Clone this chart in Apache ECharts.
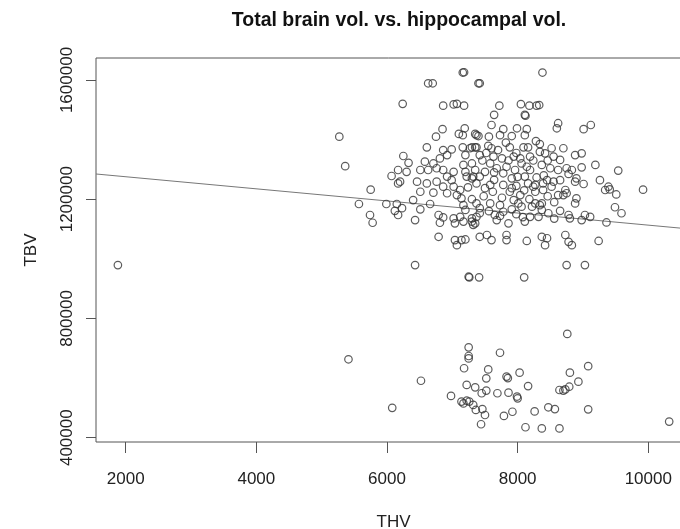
<!DOCTYPE html>
<html>
<head>
<meta charset="utf-8">
<script src="https://cdn.jsdelivr.net/npm/echarts@6/dist/echarts.min.js"></script>
<style>
  html, body { margin: 0; padding: 0; background: #fff; }
  #main { width: 680px; height: 529px; }
</style>
</head>
<body>
<div id="main"></div>
<script>
// tick values (R style axes)
var xTicks = [2000, 4000, 6000, 8000, 10000];
var yTicks = [400000, 800000, 1200000, 1600000];

// fitted line TBV = intercept + slope * THV
var intercept = 1316000;
var slope = -20.3;

// upper cluster [THV, TBV]
var upperLeft = [
  [7160,1625000],[7180,1626000],[6630,1589000],[6700,1589000],[7400,1589000],
  [6240,1520000],[6860,1514000],[7020,1518000],[7070,1520000],[7180,1514000],
  [5270,1410000],[5360,1311000],[6850,1435000],[6750,1410000],[7190,1438000],
  [7100,1419000],[7160,1415000],[7370,1415000],[6610,1374000],[6250,1345000],
  [6330,1322000],[6860,1365000],[6990,1367000],[6920,1348000],[6810,1337000],
  [7160,1374000],[7270,1371000],[7200,1348000],[7350,1374000],[6580,1326000],
  [6710,1320000],[7170,1315000],[6070,1278000],[6170,1298000],[6300,1292000],
  [6200,1259000],[6510,1298000],[6630,1298000],[6760,1304000],[6860,1298000],
  [7020,1292000],[5750,1232000],[6460,1259000],[6610,1253000],[6760,1259000],
  [6920,1276000],[6990,1264000],[7300,1270000],[7220,1276000],[7350,1298000],[7200,1292000]
];
var upperRight = [
  [8380,1625000],[7420,1589000],[7720,1514000],[8050,1519000],[8180,1514000],
  [8290,1514000],[8330,1516000],[7640,1483000],[8110,1483000],[8120,1480000],
  [7600,1449000],[8620,1455000],[8600,1438000],[9120,1449000],[9010,1435000],
  [7780,1435000],[7990,1438000],[8140,1435000],[7350,1419000],[7400,1412000],
  [7730,1415000],[7910,1412000],[8110,1415000],[7560,1410000],[8340,1385000],
  [8520,1371000],[8700,1371000],[7300,1374000],[7370,1374000],[7550,1379000],
  [7600,1371000],[7880,1374000],[8090,1374000],[8160,1374000],[8340,1359000],
  [8420,1354000],[8880,1348000],[8980,1354000],[7420,1348000],[7630,1343000],
  [7760,1337000],[7940,1343000],[8040,1337000],[8190,1343000],[8550,1343000],
  [8650,1332000],[9190,1315000],[9540,1296000],[8750,1304000],[8830,1298000],
  [8980,1307000],[7580,1320000],[7680,1304000],[7830,1309000],[7960,1298000],
  [8140,1309000],[8190,1298000],[8370,1315000],[8500,1304000],[8620,1298000],
  [7500,1292000],[7320,1276000],[7420,1276000],[7780,1287000],[7910,1270000],
  [8110,1276000],[8290,1273000],[8450,1264000],[8550,1259000],[8650,1264000],
  [8900,1270000],[9010,1251000],[9260,1264000],[9390,1242000],[9920,1232000],
  [7580,1248000],[7780,1248000],[7910,1237000],[8240,1242000],[8520,1242000]
];
var middleRight = [
  [9340,1231000],[9410,1233000],[9510,1216000],[9490,1173000],[9590,1153000],
  [9360,1122000],[9240,1060000],[9030,1147000],[9110,1141000],[8980,1130000],
  [8780,1147000],[8800,1136000],[8650,1161000],[8880,1186000],[8900,1203000],
  [8750,1220000],[8700,1214000],[8730,1231000],[8880,1259000],[8470,1153000],
  [8320,1141000],[8190,1141000],[8110,1125000],[8340,1180000],[8370,1164000],
  [7910,1166000],[7780,1158000],[7860,1119000],[7680,1130000],[7650,1147000],
  [7730,1144000],[7420,1153000],[7370,1141000],[7300,1125000],[7350,1119000],
  [7420,1074000],[7530,1080000],[7600,1063000],[7830,1080000],[7830,1063000],
  [8140,1060000],[8370,1074000],[8450,1069000],[8420,1046000],[8730,1080000],
  [8780,1057000],[8830,1046000],[8750,979000],[9030,979000],[8100,938000],
  [7370,1253000],[7500,1237000],[7880,1225000],[8040,1214000],[8160,1253000],
  [8270,1248000],[8390,1253000],[8270,1225000],[8390,1231000],[8620,1214000],
  [7370,1186000],[7420,1170000],[7580,1186000],[7730,1180000],[7940,1197000],
  [8010,1186000],[8060,1175000],[8220,1175000],[8270,1186000],[8370,1186000]
];
var middleLeft = [
  [1880,979000],
  [5570,1184000],[5740,1147000],[5780,1121000],[5990,1184000],[6150,1184000],
  [6120,1161000],[6170,1147000],[6230,1170000],[6400,1197000],[6510,1166000],
  [6430,1130000],[6660,1184000],[6790,1147000],[6810,1121000],[6860,1139000],
  [6790,1074000],[7040,1063000],[7070,1046000],[7140,1063000],[7200,1065000],
  [6430,979000],[7260,938000],[7250,940000],[7410,938000],
  [6710,1222000],[6510,1225000],[6170,1253000],
  [6860,1242000],[6920,1220000],[7020,1242000],[7070,1214000],[7120,1231000],
  [7140,1203000],[7170,1180000],[7200,1164000],[7120,1141000],[7170,1125000],
  [7300,1136000],[7320,1114000],[7020,1136000],[7040,1119000]
];
// extra points in the dense core
var denseCore = [
  [7460,1330000],[7520,1355000],[7640,1290000],[7700,1365000],[7820,1390000],
  [7980,1355000],[8060,1320000],[8240,1330000],[8280,1395000],[8460,1330000],
  [7480,1210000],[7620,1225000],[7760,1205000],[7980,1245000],[8100,1230000],
  [8180,1200000],[8460,1210000],[8560,1190000],[7560,1160000],[7980,1150000],
  [8080,1140000],[8560,1135000],[7240,1240000],[7300,1200000],[7640,1265000],
  [8000,1275000],[8400,1280000],[8780,1285000],[7860,1330000],[7300,1320000]
];
// lower cluster
var lowerGroup = [
  [5410,663000],[6080,500000],[6520,591000],[7250,703000],[7250,674000],[7250,666000],
  [7730,685000],[7180,633000],[7550,629000],[7520,599000],[7830,605000],[7850,600000],
  [8030,618000],[8160,573000],[7220,577000],[7350,569000],[7450,549000],[7520,558000],
  [6980,540000],[7140,521000],[7170,515000],[7220,524000],[7260,521000],[7320,510000],
  [7360,493000],[7460,496000],[7500,476000],[7440,445000],[7690,549000],[7860,551000],
  [7990,538000],[8000,532000],[7790,473000],[7920,487000],[8120,435000],[8260,488000],
  [8370,431000],[8470,502000],[8760,748000],[9080,640000],[8800,618000],[8930,588000],
  [8790,571000],[8640,560000],[8700,558000],[8730,562000],[8570,496000],[9080,495000],
  [8640,431000],[10320,454000]
];

var xMin = 1545, xMax = 10654;
var yMin = 385500, yMax = 1673800;

var allPoints = upperLeft.concat(upperRight, middleRight, middleLeft, denseCore, lowerGroup);

var fitLine = [
  [xMin, intercept + slope * xMin],
  [xMax, intercept + slope * xMax]
];

var font = 'Liberation Sans, Arial, Helvetica, sans-serif';
var myChart = echarts.init(document.getElementById('main'));

var option = {
  backgroundColor: '#fff',
  animation: false,
  title: {
    text: 'Total brain vol. vs. hippocampal vol.',
    left: 394,
    textAlign: 'center',
    top: 6,
    textStyle: { fontFamily: font, fontSize: 19.5, fontWeight: 'bold', color: '#111' }
  },
  grid: {
    left: 96, top: 58, width: 595, height: 384,
    outerBoundsMode: 'none',
    containLabel: false,
    show: true, borderColor: '#555', borderWidth: 1, backgroundColor: 'transparent'
  },
  xAxis: {
    type: 'value', min: xMin, max: xMax,
    name: 'THV', nameLocation: 'middle', nameGap: 72,
    nameTextStyle: { fontFamily: font, fontSize: 17, color: '#222' },
    axisLine: { show: false },
    splitLine: { show: false },
    axisTick: { show: true, length: 11, customValues: xTicks, lineStyle: { color: '#555' } },
    axisLabel: {
      fontFamily: font, fontSize: 17, color: '#222', margin: 29, customValues: xTicks,
      formatter: function (v) { return String(v); }
    }
  },
  yAxis: {
    type: 'value', min: yMin, max: yMax,
    name: 'TBV', nameLocation: 'middle', nameGap: 56,
    nameTextStyle: { fontFamily: font, fontSize: 17, color: '#222' },
    axisLine: { show: false },
    splitLine: { show: false },
    axisTick: { show: true, length: 10, customValues: yTicks, lineStyle: { color: '#555' } },
    axisLabel: {
      fontFamily: font, fontSize: 17, color: '#222', margin: 20, rotate: 90, customValues: yTicks,
      formatter: function (v) { return String(v); }
    }
  },
  series: [{
    type: 'scatter',
    data: allPoints,
    symbol: 'circle',
    symbolSize: 7.5,
    itemStyle: { color: 'rgba(0,0,0,0)', borderColor: '#333', borderWidth: 1.2 }
  }, {
    type: 'line',
    data: fitLine,
    symbol: 'none',
    lineStyle: { color: '#777', width: 1 },
    z: 1
  }]
};
myChart.setOption(option);
</script>
</body>
</html>
